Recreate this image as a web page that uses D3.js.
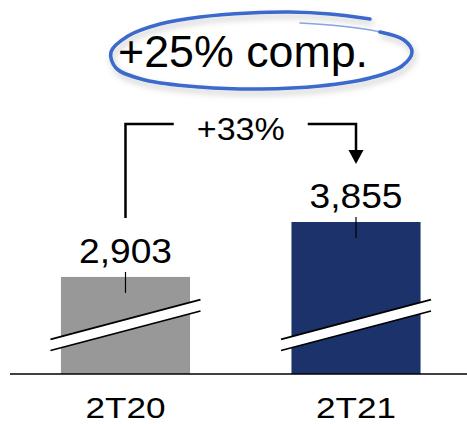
<!DOCTYPE html>
<html>
<head>
<meta charset="utf-8">
<script src="https://cdn.jsdelivr.net/npm/d3@7"></script>
<style>
  html, body { margin: 0; padding: 0; background: #fff; }
  svg { display: block; font-family: "Liberation Sans", Arial, sans-serif; }
</style>
</head>
<body>
<svg id="chart" width="467" height="424"></svg>
<script>
// ---- data ----
const categories = ["2T20", "2T21"];
const values = [2903, 3855];
const valueLabels = ["2,903", "3,855"];
const barColors = ["#989898", "#1b326b"];
const growthLabel = "+33%";
const headline = "+25% comp.";
const axisBreakBase = 1220; // value at baseline (broken axis)

// ---- layout ----
const W = 467, H = 424;
const baseY = 374;
const svg = d3.select("#chart");

const x = d3.scaleBand().domain(categories).range([10, 471.5])
  .paddingInner(0.44).paddingOuter(0.221);
const y = d3.scaleLinear().domain([axisBreakBase, d3.max(values)]).range([baseY, 222]);

const data = categories.map((c, i) => ({ c, v: values[i], label: valueLabels[i], color: barColors[i] }));

// bars
svg.selectAll("rect.bar").data(data).enter().append("rect")
  .attr("class", "bar")
  .attr("x", d => x(d.c))
  .attr("width", x.bandwidth())
  .attr("y", d => y(d.v))
  .attr("height", d => baseY - y(d.v))
  .attr("fill", d => d.color);

// axis break marks
const brk = svg.selectAll("g.brk").data(data).enter().append("g").attr("class", "brk")
  .attr("transform", d => `translate(${x(d.c) + x.bandwidth() / 2},${baseY})`);
const bx = 75, slope = 40;
brk.append("path")
  .attr("d", `M${-bx},${-35} L${bx},${-35 - slope} L${bx},${-63 + 0} L${-bx},${-23}`)
  .attr("fill", "none");
brk.append("path")
  .attr("d", `M${-bx},${-34.7} L${bx},${-74.3} L${bx},${-63} L${-bx},${-23.5} Z`)
  .attr("fill", "#fff");
brk.append("line").attr("x1", -bx).attr("y1", -34.7).attr("x2", bx).attr("y2", -74.3)
  .attr("stroke", "#000").attr("stroke-width", 1.8);
brk.append("line").attr("x1", -bx).attr("y1", -23.5).attr("x2", bx).attr("y2", -63)
  .attr("stroke", "#000").attr("stroke-width", 1.8);

// baseline axis
svg.append("line").attr("x1", 10).attr("x2", W).attr("y1", baseY).attr("y2", baseY)
  .attr("stroke", "#000").attr("stroke-width", 1.5);

// value ticks and labels
svg.selectAll("line.vt").data(data).enter().append("line")
  .attr("class", "vt")
  .attr("x1", d => x(d.c) + x.bandwidth() / 2).attr("x2", d => x(d.c) + x.bandwidth() / 2)
  .attr("y1", d => y(d.v) - 5).attr("y2", d => y(d.v) + 16)
  .attr("stroke", "#000").attr("stroke-width", 1.2);

svg.selectAll("text.val").data(data).enter().append("text")
  .attr("class", "val")
  .attr("x", d => x(d.c) + x.bandwidth() / 2 - 46.5)
  .attr("y", d => y(d.v) - 14)
  .attr("font-size", 35)
  .attr("textLength", 93).attr("lengthAdjust", "spacingAndGlyphs")
  .attr("fill", "#000")
  .text(d => d.label);

// category labels
svg.selectAll("text.cat").data(data).enter().append("text")
  .attr("class", "cat")
  .attr("x", d => x(d.c) + x.bandwidth() / 2 - 40)
  .attr("y", 418)
  .attr("font-size", 30)
  .attr("textLength", 80).attr("lengthAdjust", "spacingAndGlyphs")
  .attr("fill", "#000")
  .text(d => d.c);

// growth bracket
const x1 = x(categories[0]) + x.bandwidth() / 2;
const x2 = x(categories[1]) + x.bandwidth() / 2;
const yTop = 124;
const yL = y(values[0]) - 14 - 45;
const yR = y(values[1]) - 14 - 44;
const mid = (x1 + x2) / 2;
svg.append("path")
  .attr("d", `M${x1},${yL} L${x1},${yTop} L${mid - 67},${yTop}`)
  .attr("fill", "none").attr("stroke", "#000").attr("stroke-width", 2.5);
svg.append("path")
  .attr("d", `M${mid + 67},${yTop} L${x2},${yTop} L${x2},${yR - 12}`)
  .attr("fill", "none").attr("stroke", "#000").attr("stroke-width", 2.5);
svg.append("path")
  .attr("d", `M${x2 - 7.5},${yR - 14} L${x2 + 7.5},${yR - 14} L${x2},${yR} Z`)
  .attr("fill", "#000");
svg.append("text")
  .attr("x", mid - 44).attr("y", 140)
  .attr("font-size", 31)
  .attr("textLength", 88).attr("lengthAdjust", "spacingAndGlyphs")
  .attr("fill", "#000")
  .text(growthLabel);

// headline with hand-drawn ellipse
const defs = svg.append("defs");
const f = defs.append("filter").attr("id", "sh").attr("x", "-20%").attr("y", "-40%").attr("width", "140%").attr("height", "180%");
f.append("feDropShadow").attr("dx", 2).attr("dy", 4).attr("stdDeviation", 3)
  .attr("flood-color", "#000").attr("flood-opacity", 0.22);

const ringPts = [[370, 19], [330, 14], [290, 12], [250, 13], [200, 17], [160, 24], [128, 36], [111, 52],
  [116, 68], [145, 80], [200, 87], [260, 89], [320, 86], [370, 78], [402, 66], [412, 52], [404, 40], [380, 32], [340, 26], [300, 23]];
const ring = d3.line().curve(d3.curveCatmullRom.alpha(0.5));
svg.append("path")
  .attr("d", ring(ringPts.slice(0, 18)))
  .attr("fill", "none").attr("stroke", "#3b69cc").attr("stroke-width", 3.6)
  .attr("stroke-linecap", "round")
  .attr("filter", "url(#sh)");
svg.append("path")
  .attr("d", ring(ringPts.slice(16)))
  .attr("fill", "none").attr("stroke", "#3b69cc").attr("stroke-width", 1.6)
  .attr("stroke-opacity", 0.6).attr("stroke-linecap", "round");

svg.append("text")
  .attr("x", 118).attr("y", 67)
  .attr("font-size", 45)
  .attr("textLength", 250).attr("lengthAdjust", "spacingAndGlyphs")
  .attr("fill", "#000")
  .text(headline);
</script>
</body>
</html>
